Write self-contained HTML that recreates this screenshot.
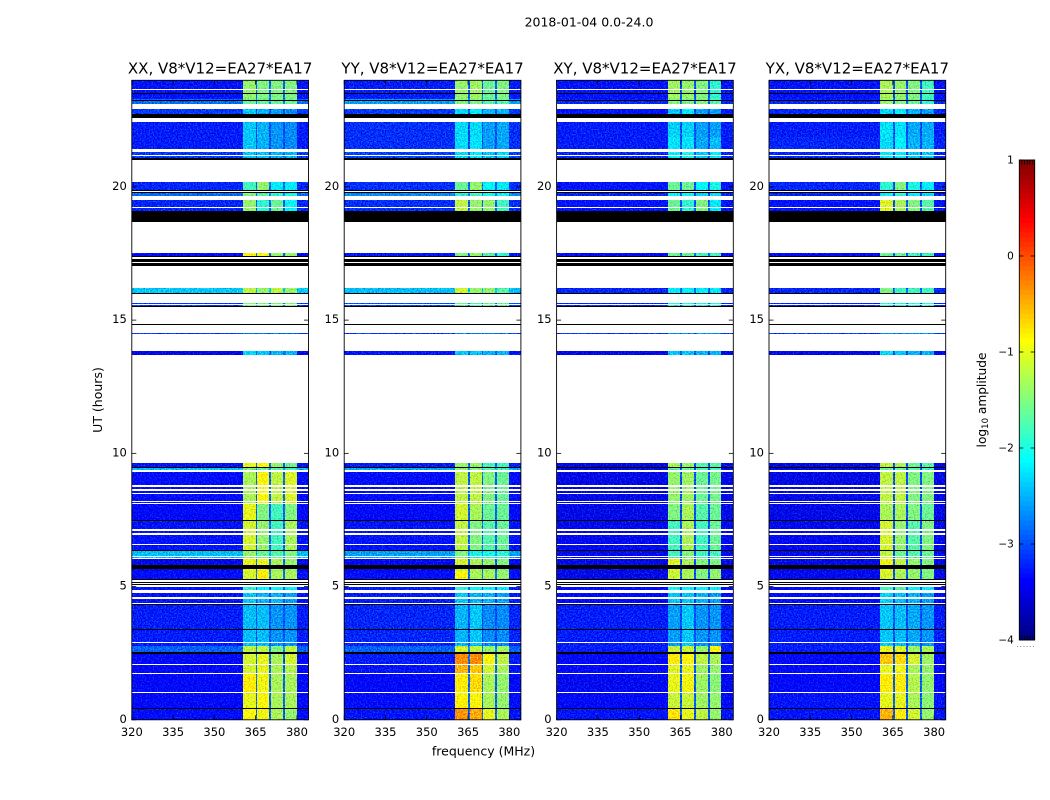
<!DOCTYPE html>
<html lang="en">
<head>
<meta charset="utf-8">
<title>2018-01-04 0.0-24.0</title>
<style>
html,body{margin:0;padding:0;background:#fff;}
svg{display:block;font-family:"DejaVu Sans","Liberation Sans",sans-serif;fill:#000;}
</style>
</head>
<body>
<svg id="figure" xmlns="http://www.w3.org/2000/svg" width="1050" height="800" viewBox="0 0 1050 800">
  <defs>
    <filter id="speckle-a" filterUnits="userSpaceOnUse" x="100" y="60" width="900" height="680" color-interpolation-filters="sRGB">
      <feTurbulence type="fractalNoise" baseFrequency="0.75" numOctaves="1" seed="4" result="n"/>
      <feColorMatrix in="n" type="matrix" values="0.3 0 0 0 0.35  1.1 0 0 0 -0.05  0.6 0 0 0 0.2  0 0 0 0 1" result="c"/>
      <feComposite in="SourceGraphic" in2="c" operator="arithmetic" k1="0" k2="1" k3="1" k4="-0.5" result="r"/>
      <feComposite in="r" in2="SourceAlpha" operator="in"/>
    </filter>
  </defs>
  <rect x="0" y="0" width="1050" height="800" fill="#fff"/>
  <text x="589" y="26.5" text-anchor="middle" font-size="12.5">2018-01-04 0.0-24.0</text>
  <text transform="translate(102,400) rotate(-90)" text-anchor="middle" font-size="12.5">UT (hours)</text>
  <text x="483.5" y="755.5" text-anchor="middle" font-size="12.5">frequency (MHz)</text>
  <text transform="translate(986,400) rotate(-90)" text-anchor="middle" font-size="12.2">log<tspan font-size="8.5" dy="2">10</tspan><tspan dy="-2"> amplitude</tspan></text>
  <g id="panels"></g>
  <g id="colorbar"></g>
</svg>
<script>
// ---- chart data ----
const panelNames = ['XX', 'YY', 'XY', 'YX'];
const baselineLabel = 'V8*V12=EA27*EA17';
const freqTicks = [320, 335, 350, 365, 380];
const utTicks = [0, 5, 10, 15, 20];
const colorbarTicks = [1, 0, -1, -2, -3, -4];
// time blocks with data, hours [start, end]
const timeBlocks = [[0,0.41],[0.41,1.01],[1.01,1.725],[1.725,2.06],[2.06,2.475],[2.475,2.775],[2.775,4.34],[4.34,4.76],[4.875,5.06],[5.29,5.59],[5.59,6.02],[6.02,6.35],[6.35,7.47],[7.47,8.1],[8.1,9.3],[9.3,9.45],[9.45,9.64],[13.68,13.84],[14.475,14.51],[15.52,15.63],[16.03,16.2],[17.4,17.51],[19.09,19.5],[19.65,19.84],[19.84,20.175],[21.1,21.3],[21.41,21.86],[21.86,22.43],[22.73,22.91],[23.1,23.29],[23.29,24]];
// log10 amplitude per block: [low band, sub-band 1, 2, 3, 4, sub-band gap]
const xxAmps = [[-3.35,-0.9,-0.95,-1.3,-1.4,-2.9],[-3.4,-1,-0.9,-1.3,-1.3,-2.9],[-3.4,-0.8,-0.95,-1.3,-1.3,-2.9],[-3.4,-1.1,-1,-1.3,-1.25,-2.9],[-3.4,-1.1,-1,-1.3,-1.1,-2.9],[-2.9,-1.2,-1.2,-1.5,-1.2,-2.7],[-3.25,-2.45,-2.45,-2.65,-2.65,-2.95],[-3.3,-2.4,-2.5,-2.5,-2.6,-2.95],[-3.3,-1.9,-2.1,-2.1,-2.2,-2.9],[-3.35,-1.1,-0.8,-1.3,-1.3,-2.8],[-3.5,-1,-1,-1.3,-1.4,-2.9],[-2.45,-1.4,-1.6,-1.7,-1.5,-2.5],[-3.3,-1.1,-1.4,-1.8,-1.3,-2.9],[-3.4,-1,-1.5,-1.8,-1.5,-2.9],[-3.35,-1.3,-0.9,-1.2,-1.05,-2.9],[-2.45,-1.5,-1.6,-1.7,-1.8,-2.5],[-3.3,-1,-0.9,-1.4,-1.6,-2.9],[-3.5,-2.3,-2.4,-2.5,-2.5,-2.9],[-3.1,-2.8,-2.8,-2.8,-2.8,-3],[-3.1,-1.5,-1.5,-1.5,-1.5,-2.8],[-2.4,-1.2,-1.4,-1.2,-1.4,-2.4],[-3.4,-0.9,-0.9,-1.4,-1.4,-2.9],[-3.2,-1.4,-1.9,-1.6,-2.1,-2.9],[-2.85,-1.5,-1.7,-1.9,-2,-2.7],[-3.2,-1.8,-1.4,-2.2,-2.2,-2.9],[-3.1,-2.4,-2.4,-2.5,-2.5,-2.9],[-3.25,-2.4,-2.5,-2.65,-2.7,-3],[-3.25,-2.4,-2.5,-2.65,-2.7,-3],[-3.1,-2.4,-2.5,-2.6,-2.7,-3],[-2.85,-1.6,-1.6,-1.6,-1.6,-2.7],[-3.3,-1.4,-1.5,-1.5,-1.5,-2.9]];
const yyAmps = [[-3.3,-0.35,-0.45,-1,-1.3,-2.9],[-3.35,-0.85,-0.9,-1.3,-1.4,-2.9],[-3.4,-0.8,-0.7,-1.3,-1.4,-2.9],[-3.3,-0.5,-0.6,-1.1,-1.3,-2.9],[-3.25,-0.3,-0.3,-0.9,-1.2,-2.8],[-2.9,-1.1,-1.2,-1.4,-1.3,-2.7],[-3.2,-2.5,-2.4,-2.7,-2.7,-3],[-3.25,-2.4,-2.5,-2.5,-2.6,-3],[-3.25,-1.9,-2.1,-2.2,-2.2,-2.9],[-3.35,-0.9,-1.3,-1.3,-1.4,-2.8],[-3.45,-1.1,-1.3,-1.4,-1.5,-2.9],[-2.6,-1.5,-2,-2,-1.9,-2.6],[-3.3,-1.2,-1.5,-1.7,-1.6,-2.9],[-3.4,-1.1,-1.3,-1.6,-1.6,-2.9],[-3.35,-1.2,-1.2,-1.5,-1.6,-2.9],[-2.55,-1.4,-1.5,-1.7,-1.8,-2.5],[-3.25,-1.4,-1.4,-1.8,-1.8,-2.9],[-3.3,-2.4,-2.4,-2.5,-2.5,-2.9],[-3.1,-2.8,-2.8,-2.8,-2.8,-3],[-3,-1.6,-1.7,-1.6,-1.6,-2.8],[-2.45,-1.1,-1.4,-1.4,-1.7,-2.4],[-3.3,-1.5,-1.4,-1.7,-1.9,-2.9],[-3.15,-1.2,-1.4,-1.4,-1.8,-2.9],[-2.7,-1.9,-1.8,-2,-2.1,-2.7],[-3.15,-1.6,-1.4,-2.1,-2.2,-2.9],[-3.05,-2.3,-2.2,-2.4,-2.3,-2.9],[-3.15,-2.3,-2.25,-2.6,-2.55,-3],[-3.15,-2.3,-2.3,-2.6,-2.55,-3],[-3.1,-2.3,-2.2,-2.5,-2.5,-3],[-2.6,-1.5,-1.5,-1.7,-1.7,-2.6],[-3.25,-1.4,-1.35,-1.6,-1.5,-2.9]];
const xyAmps = [[-3.3,-0.75,-1,-1.2,-1.4,-2.95],[-3.4,-1.15,-1.15,-1.35,-1.4,-2.95],[-3.45,-1,-0.95,-1.35,-1.45,-2.95],[-3.4,-1.05,-1,-1.35,-1.4,-2.95],[-3.4,-0.8,-0.9,-1.2,-1.3,-2.95],[-3.25,-1.15,-1.15,-1.4,-0.9,-2.95],[-3.25,-2.6,-2.4,-2.65,-2.65,-3],[-3.4,-2.4,-2.4,-2.5,-2.6,-3],[-3.4,-2,-2.1,-2.1,-2.2,-2.95],[-3.5,-1.15,-1.3,-1.5,-1.4,-3],[-3.5,-1.05,-1.3,-1.5,-1.5,-3],[-3.45,-1.8,-1.5,-1.8,-1.8,-3],[-3.45,-1.8,-1.3,-1.8,-1.6,-3],[-3.5,-1.5,-1.3,-1.7,-1.6,-3],[-3.5,-1.4,-1.35,-1.6,-1.55,-3],[-3.5,-1.7,-1.6,-1.8,-1.8,-3],[-3.5,-1.3,-1.4,-1.7,-1.7,-3],[-3.5,-2.4,-2.4,-2.5,-2.5,-3],[-3.1,-2.7,-2.7,-2.7,-2.7,-3],[-3.2,-1.9,-1.9,-1.9,-1.9,-2.9],[-3.2,-2.2,-2.2,-2.2,-2.2,-2.9],[-3.4,-1.6,-1.6,-1.8,-1.8,-2.9],[-3.3,-1.6,-1.9,-1.5,-2.2,-3],[-3.2,-2.1,-2.1,-2.3,-2.3,-3],[-3.3,-1.6,-1.6,-2.1,-2,-3],[-3.2,-2.1,-2,-2.4,-2.2,-3],[-3.25,-2.25,-2.25,-2.55,-2.45,-3],[-3.25,-2.35,-2.35,-2.6,-2.6,-3],[-3.3,-2.4,-2.2,-2.6,-2.6,-3],[-3.2,-1.5,-1.55,-1.5,-1.7,-2.9],[-3.3,-1.35,-1.4,-1.5,-1.9,-3]];
const yxAmps = [[-3.3,-0.5,-0.8,-1.1,-1.4,-2.95],[-3.3,-1,-1,-1.3,-1.45,-2.95],[-3.4,-0.8,-0.8,-1.25,-1.4,-2.95],[-3.4,-1,-0.95,-1.3,-1.4,-2.95],[-3.4,-0.6,-0.7,-1.1,-1.35,-2.95],[-3.25,-1,-1.05,-1.35,-1.3,-2.95],[-3.25,-2.4,-2.45,-2.55,-2.65,-3],[-3.35,-2.35,-2.45,-2.5,-2.6,-3],[-3.4,-1.8,-1.7,-2.1,-2.2,-2.95],[-3.45,-1.1,-1.3,-1.4,-1.5,-3],[-3.5,-0.95,-1.2,-1.4,-1.5,-3],[-3.45,-1.2,-1.6,-1.7,-1.6,-3],[-3.45,-1.1,-1.4,-1.7,-1.5,-3],[-3.5,-1.3,-1.3,-1.5,-1.6,-3],[-3.5,-1.2,-1.2,-1.5,-1.5,-3],[-3.5,-1.6,-1.6,-1.7,-1.8,-3],[-3.5,-1.2,-1.3,-1.6,-1.7,-3],[-3.5,-2.3,-2.4,-2.5,-2.5,-3],[-3.1,-2.7,-2.7,-2.7,-2.7,-3],[-3.2,-1.9,-1.9,-1.9,-1.9,-2.9],[-3.2,-1.5,-1.8,-1.8,-1.8,-2.9],[-3.4,-1.6,-1.6,-1.8,-1.8,-2.9],[-3.3,-1.05,-1.3,-1.5,-1.7,-3],[-3.2,-2.1,-1.9,-2.2,-2.3,-3],[-3.2,-1.9,-1.5,-2,-2.2,-3],[-3.2,-2.2,-2.2,-2.4,-2.4,-3],[-3.2,-2.3,-2.15,-2.5,-2.5,-3],[-3.25,-2.25,-2.25,-2.55,-2.55,-3],[-3.2,-2.3,-2.2,-2.5,-2.6,-3],[-3.2,-1.4,-1.5,-1.6,-1.9,-2.9],[-3.3,-1.3,-1.4,-1.5,-1.8,-3]];
// which amplitude column covers each frequency bin
const freqBinEdges = [320, 360.4, 365, 365.6, 369.9, 370.6, 374.9, 375.6, 379.9, 384.2];
const freqBinColumns = [0, 1, 5, 2, 5, 3, 5, 4, 0];
// partly flagged (no data) intervals inside blocks, hours
const blankIntervals = [[1.01,1.04],[1.725,1.76],[2.06,2.1],[2.875,2.91],[4.34,4.37],[4.55,4.61],[4.76,4.875],[5,5.06],[5.1,5.14],[5.19,5.24],[6.02,6.06],[6.11,6.15],[6.55,6.59],[6.94,7.01],[7.1,7.16],[8.1,8.15],[8.19,8.22],[8.475,8.52],[8.6,8.66],[8.74,8.81],[9.3,9.39],[15.57,15.6],[19.2,19.24],[19.8,19.84],[21.15,21.19],[23.63,23.66]];
// zero-amplitude intervals, hours
const zeroIntervals = [[0.41,0.44],[2.475,2.51],[2.52,2.56],[3.375,3.4],[4.3,4.34],[5.06,5.1],[5.14,5.19],[5.24,5.29],[5.65,5.72],[5.75,5.8],[6.35,6.39],[7.47,7.5],[9.45,9.48],[14.81,14.85],[15.48,15.52],[15.99,16.03],[17.04,17.13],[17.19,17.24],[17.28,17.31],[17.35,17.4],[18.675,19.09],[19.76,19.8],[19.84,19.875],[21.01,21.05],[21.08,21.1],[22.58,22.73],[23.23,23.27],[23.47,23.51]];
const panelAmps = [xxAmps, yyAmps, xyAmps, yxAmps];

// ---- layout ----
const NS = 'http://www.w3.org/2000/svg';
const plotTop = 80.3, plotBottom = 719.8, plotWidth = 176.7, panelLeft = 131.8, panelStep = 212.4;
const freqMin = 320, freqMax = 384.2, utMin = 0, utMax = 24;
const cbLeft = 1019.3, cbRight = 1034.7, cbTop = 160, cbBottom = 640, cbMin = -4, cbMax = 1;

function xScale(left, f) { return left + (f - freqMin) / (freqMax - freqMin) * plotWidth; }
function yScale(u) { return plotBottom - (u - utMin) / (utMax - utMin) * (plotBottom - plotTop); }
function cbScale(v) { return cbBottom - (v - cbMin) / (cbMax - cbMin) * (cbBottom - cbTop); }
function jet(v) {
  const p = Math.min(1, Math.max(0, (v - cbMin) / (cbMax - cbMin)));
  const ch = function (c) { return Math.round(255 * Math.min(1, Math.max(0, 1.5 - Math.abs(4 * p - c)))); };
  return 'rgb(' + ch(3) + ',' + ch(2) + ',' + ch(1) + ')';
}
function mk(tag, parent) {
  const el = document.createElementNS(NS, tag);
  parent.appendChild(el);
  return el;
}
function setRect(el, x, y, w, h, fill) {
  el.setAttribute('x', x);
  el.setAttribute('y', y);
  el.setAttribute('width', w);
  el.setAttribute('height', h);
  el.setAttribute('fill', fill);
  el.setAttribute('shape-rendering', 'crispEdges');
}
function setBand(el, left, iv, fill) {
  const top = Math.round(yScale(iv[1]));
  const bot = Math.round(yScale(iv[0]));
  setRect(el, left, top, plotWidth, Math.max(1, bot - top), fill);
}
function setLine(el, x1, y1, x2, y2) {
  el.setAttribute('x1', x1);
  el.setAttribute('y1', y1);
  el.setAttribute('x2', x2);
  el.setAttribute('y2', y2);
  el.setAttribute('stroke', '#000');
  el.setAttribute('stroke-width', '0.8');
}

const panelsRoot = document.getElementById('panels');
panelNames.forEach(function (name, pi) {
  const left = panelLeft + pi * panelStep;
  const right = left + plotWidth;
  const amps = panelAmps[pi];

  const panel = mk('g', panelsRoot);
  
  

  const clip = mk('clipPath', panel);
  clip.setAttribute('id', 'clip-' + pi);
  const clipRect = mk('rect', clip);
  clipRect.setAttribute('x', left);
  clipRect.setAttribute('y', plotTop);
  clipRect.setAttribute('width', plotWidth);
  clipRect.setAttribute('height', plotBottom - plotTop);

  const holder = mk('g', panel);
  holder.setAttribute('clip-path', 'url(#clip-' + pi + ')');
  
  

  const cells = mk('g', holder);
  cells.setAttribute('filter', 'url(#speckle-a)');
  timeBlocks.forEach(function (block, bi) {
    freqBinColumns.forEach(function (col, fi) {
      const x0 = Math.round(xScale(left, freqBinEdges[fi]));
      const x1 = Math.round(xScale(left, freqBinEdges[fi + 1]));
      const yTop = Math.round(yScale(block[1]));
      const yBot = Math.round(yScale(block[0]));
      const cell = mk('rect', cells);
      
      
      setRect(cell, x0, yTop, Math.max(1, x1 - x0), Math.max(1, yBot - yTop), jet(amps[bi][col]));
    });
  });

  blankIntervals.forEach(function (iv) {
    const r = mk('rect', holder);
    
    
    setBand(r, left, iv, '#fff');
  });
  zeroIntervals.forEach(function (iv) {
    const r = mk('rect', holder);
    
    
    setBand(r, left, iv, '#000');
  });

  freqTicks.forEach(function (t) {
    const x = xScale(left, t);
    const tb = mk('line', panel);
    
    
    setLine(tb, x, plotBottom, x, plotBottom - 4.5);
    const tt = mk('line', panel);
    
    
    setLine(tt, x, plotTop, x, plotTop + 4.5);
    const lab = mk('text', panel);
    
    
    lab.setAttribute('x', x);
    lab.setAttribute('y', plotBottom + 16);
    lab.setAttribute('text-anchor', 'middle');
    lab.setAttribute('font-size', '11.5');
    lab.textContent = t;
  });
  utTicks.forEach(function (t) {
    const y = yScale(t);
    const tl = mk('line', panel);
    
    
    setLine(tl, left, y, left + 4.5, y);
    const tr = mk('line', panel);
    
    
    setLine(tr, right, y, right - 4.5, y);
    const lab = mk('text', panel);
    
    
    lab.setAttribute('x', left - 5);
    lab.setAttribute('y', y + 3);
    lab.setAttribute('text-anchor', 'end');
    lab.setAttribute('font-size', '11.5');
    lab.textContent = t;
  });

  const frame = mk('rect', panel);
  
  
  frame.setAttribute('x', left);
  frame.setAttribute('y', plotTop);
  frame.setAttribute('width', plotWidth);
  frame.setAttribute('height', plotBottom - plotTop);
  frame.setAttribute('fill', 'none');
  frame.setAttribute('stroke', '#000');
  frame.setAttribute('stroke-width', '0.9');

  const title = mk('text', panel);
  
  
  title.setAttribute('x', left + plotWidth / 2);
  title.setAttribute('y', 73.5);
  title.setAttribute('text-anchor', 'middle');
  title.setAttribute('font-size', '15');
  title.textContent = name + ', ' + baselineLabel;
});

// ---- colour bar ----
const cbRoot = document.getElementById('colorbar');
const cbStep = 0.05;
for (let i = 0; i * cbStep < cbMax - cbMin; i++) {
  const v = cbMin + i * cbStep;
  const s = mk('rect', cbRoot);
  
  
  const y1 = cbScale(v + cbStep);
  setRect(s, cbLeft, y1, cbRight - cbLeft, cbScale(v) - y1 + 0.5, jet(v + cbStep / 2));
}
colorbarTicks.forEach(function (t) {
  const y = cbScale(t);
  const a = mk('line', cbRoot);
  
  
  setLine(a, cbLeft, y, cbLeft + 4, y);
  const b = mk('line', cbRoot);
  
  
  setLine(b, cbRight, y, cbRight - 4, y);
  const lab = mk('text', cbRoot);
  
  
  lab.setAttribute('x', cbLeft - 5.5);
  lab.setAttribute('y', y + 3.5);
  lab.setAttribute('text-anchor', 'end');
  lab.setAttribute('font-size', '10.5');
  lab.textContent = t < 0 ? '\u2212' + Math.abs(t) : String(t);
});
for (let k = 0; k < 5; k++) {
  const x = cbLeft + 2.5 + k * 2.7;
  const top = mk('line', cbRoot);
  
  
  setLine(top, x, cbTop, x, cbTop + 4.5);
  const bot = mk('line', cbRoot);
  
  
  setLine(bot, x, cbBottom, x, cbBottom - 4.5);
}
const cbFrame = mk('rect', cbRoot);


cbFrame.setAttribute('x', cbLeft);
cbFrame.setAttribute('y', cbTop);
cbFrame.setAttribute('width', cbRight - cbLeft);
cbFrame.setAttribute('height', cbBottom - cbTop);
cbFrame.setAttribute('fill', 'none');
cbFrame.setAttribute('stroke', '#000');
cbFrame.setAttribute('stroke-width', '0.9');
const cbDots = mk('line', cbRoot);


cbDots.setAttribute('x1', 1017);
cbDots.setAttribute('y1', 646.5);
cbDots.setAttribute('x2', 1035);
cbDots.setAttribute('y2', 646.5);
cbDots.setAttribute('stroke', '#888');
cbDots.setAttribute('stroke-width', '1');
cbDots.setAttribute('stroke-dasharray', '1 2.2');
</script>
</body>
</html>
